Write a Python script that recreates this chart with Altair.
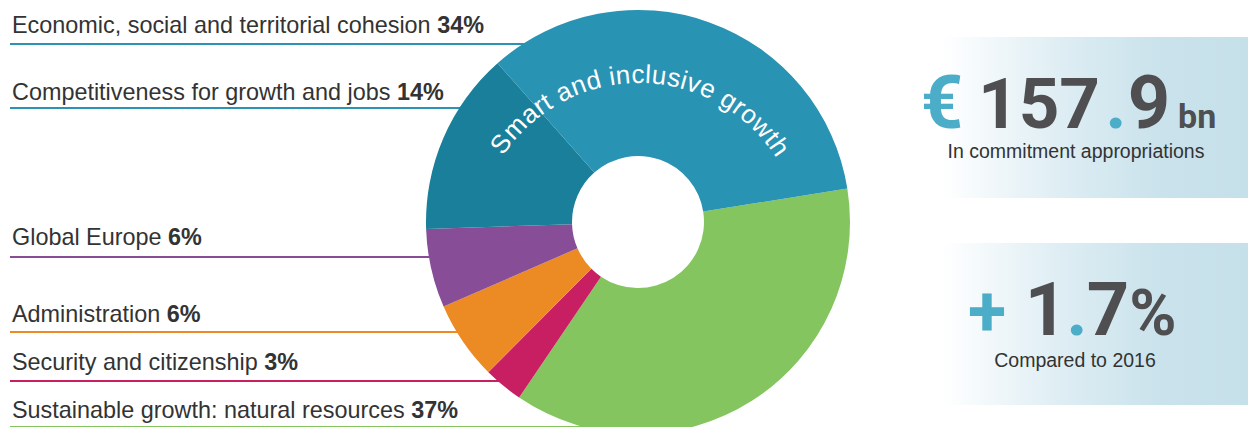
import math
import altair as alt
import pandas as pd

# ---------------- data ----------------
categories = [
    "Sustainable growth: natural resources",
    "Security and citizenship",
    "Administration",
    "Global Europe",
    "Competitiveness for growth and jobs",
    "Economic, social and territorial cohesion",
]
shares = [37, 3, 6, 6, 14, 34]
slice_colors = ["#84C55F", "#C81F62", "#EC8A24", "#874D97", "#197F9A", "#2893B3"]

# labels listed top to bottom as in the picture
label_names = [
    "Economic, social and territorial cohesion",
    "Competitiveness for growth and jobs",
    "Global Europe",
    "Administration",
    "Security and citizenship",
    "Sustainable growth: natural resources",
]
line_colors = ["#2A93B4", "#2A93B4", "#874D97", "#EC8A24", "#C81F62", "#84C55F"]

group_title = "Smart and inclusive growth"
total_amount = ["€", "157", ".", "9", "bn"]
total_caption = "In commitment appropriations"
change_parts = ["+", "1", ".", "7", "%"]
change_caption = "Compared to 2016"

# ---------------- layout (pixels) ----------------
W, H = 1240, 419
CX, CY = 630, 214
R_OUT, R_IN = 212, 66
START = math.radians(80.9)
LABEL_SIZE = 23.4
label_x = 4
label_base = [25, 92, 237, 314, 362, 410]
rule_y = [36, 100, 249, 324, 373, 419]
rule_end = [521, 458, 429, 457, 498, 630]

TEAL = "#4BADC8"
DARK = "#4F4F51"
TXT = "#333333"
FONT = "Liberation Sans"

# Arial / Liberation Sans advance widths (per 1000 em) for text layout
AW = {" ": 278, ",": 278, ":": 278, ".": 278, "%": 889,
      "a": 556, "b": 556, "c": 500, "d": 556, "e": 556, "f": 278, "g": 556, "h": 556,
      "i": 222, "j": 222, "k": 500, "l": 222, "m": 833, "n": 556, "o": 556, "p": 556,
      "q": 556, "r": 333, "s": 500, "t": 278, "u": 556, "v": 500, "w": 722, "x": 500,
      "y": 500, "z": 500, "A": 667, "C": 722, "E": 667, "G": 778, "S": 667}


def text_width(s, size):
    return sum(AW.get(ch, 556) for ch in s) * size / 1000.0


share_of = dict(zip(categories, shares))
one = alt.Data(values=[{}])

# ---------------- underline rules ----------------
rules_df = pd.DataFrame({"x0": [2] * 6, "x1": rule_end, "y": rule_y, "c": line_colors})
rules = alt.Chart(rules_df).mark_rule(strokeWidth=2).encode(
    x=alt.X("x0:Q", scale=None), x2="x1:Q", y=alt.Y("y:Q", scale=None),
    color=alt.Color("c:N", scale=None),
)

# ---------------- labels ----------------
lab_df = pd.DataFrame({
    "name": label_names,
    "pct": [f"{share_of[n]}%" for n in label_names],
    "x": [label_x] * 6,
    "px": [label_x + text_width(n + " ", LABEL_SIZE) for n in label_names],
    "y": label_base,
})
names = alt.Chart(lab_df).mark_text(
    align="left", baseline="alphabetic", font=FONT, fontSize=LABEL_SIZE, color=TXT
).encode(x=alt.X("x:Q", scale=None), y=alt.Y("y:Q", scale=None), text="name:N")
pcts = alt.Chart(lab_df).mark_text(
    align="left", baseline="alphabetic", font=FONT, fontSize=LABEL_SIZE, color=TXT, fontWeight="bold"
).encode(x=alt.X("px:Q", scale=None), y=alt.Y("y:Q", scale=None), text="pct:N")

# ---------------- donut ----------------
donut_df = pd.DataFrame({"category": categories, "share": shares, "idx": list(range(len(categories)))})
donut = alt.Chart(donut_df).mark_arc(outerRadius=R_OUT, innerRadius=R_IN).encode(
    theta=alt.Theta("share:Q", stack=True,
                    scale=alt.Scale(domain=[0, sum(shares)], range=[START, START + 2 * math.pi])),
    color=alt.Color("category:N", scale=alt.Scale(domain=categories, range=slice_colors), legend=None),
    order=alt.Order("idx:Q"),
    x=alt.value(CX), y=alt.value(CY),
)

# ---------------- curved title ----------------
TCX, TCY, TR = 631, 238, 171
ws = [AW.get(ch, 556) for ch in group_title]
centers = []
acc = 0
for w in ws:
    centers.append(acc + w / 2)
    acc += w
a0, a1 = -53.5, 54.9
degs = [a0 + (c - centers[0]) / (centers[-1] - centers[0]) * (a1 - a0) for c in centers]
curve_df = pd.DataFrame({
    "ch": list(group_title),
    "rad": [math.radians(d) for d in degs],
    "rot": [d % 360 for d in degs],
})
curve = alt.Chart(curve_df).mark_text(
    radius=TR, font=FONT, fontSize=26, color="white", align="center", baseline="middle"
).encode(
    theta=alt.Theta("rad:Q", scale=None, stack=None),
    angle=alt.Angle("rot:Q", scale=None),
    text="ch:N",
    x=alt.value(TCX), y=alt.value(TCY),
)

# ---------------- right boxes ----------------
grad = alt.Gradient(
    gradient="linear", x1=0, x2=1, y1=0, y2=0,
    stops=[
        alt.GradientStop(offset=0, color="#FFFFFF"),
        alt.GradientStop(offset=0.08, color="#FFFFFF"),
        alt.GradientStop(offset=0.45, color="#DDEDF3"),
        alt.GradientStop(offset=0.75, color="#C9E2EB"),
        alt.GradientStop(offset=1, color="#C6E0EA"),
    ],
)
box1 = alt.Chart(one).mark_rect(color=grad).encode(
    x=alt.value(907), x2=alt.value(W), y=alt.value(29), y2=alt.value(190))
box2 = alt.Chart(one).mark_rect(color=grad).encode(
    x=alt.value(907), x2=alt.value(W), y=alt.value(235), y2=alt.value(397))


def txt(s, x, y, size, color, weight="normal", font=FONT, align="center"):
    return alt.Chart(one).mark_text(
        text=s, fontSize=size, color=color, fontWeight=weight, font=font,
        align=align, baseline="alphabetic",
    ).encode(x=alt.value(x), y=alt.value(y))


BIG = "Roboto"
DIG = 74
row1 = [
    txt(total_amount[0], 934, 120, DIG, TEAL, "bold", BIG),
    txt(total_amount[1], 1031, 120, 71, DARK, "bold", BIG),
    txt(total_amount[2], 1108, 120, DIG, TEAL, "bold", BIG),
    txt(total_amount[3], 1141, 120, DIG, DARK, "bold", BIG),
    txt(total_amount[4], 1170, 120, 34, DARK, "bold", BIG, align="left"),
    txt(total_caption, 1068, 150, 19.5, TXT),
]
row2 = [
    txt(change_parts[0], 979, 327, 70, TEAL, "bold", BIG),
    txt(change_parts[1], 1038, 327, DIG, DARK, "bold", BIG),
    txt(change_parts[2], 1069, 327, DIG, TEAL, "bold", BIG),
    txt(change_parts[3], 1100, 327, DIG, DARK, "bold", BIG),
    txt(change_parts[4], 1145, 327, 64, DARK, "bold", BIG),
    txt(change_caption, 1067, 359, 19.5, TXT),
]

chart = alt.layer(
    box1, box2, rules, names, pcts, donut, curve, *row1, *row2
).properties(
    width=W, height=H, padding=0,
    autosize=alt.AutoSizeParams(type="none"),
).configure_view(stroke=None)

chart.save("out.html", embed_options={"renderer": "svg", "actions": False})
